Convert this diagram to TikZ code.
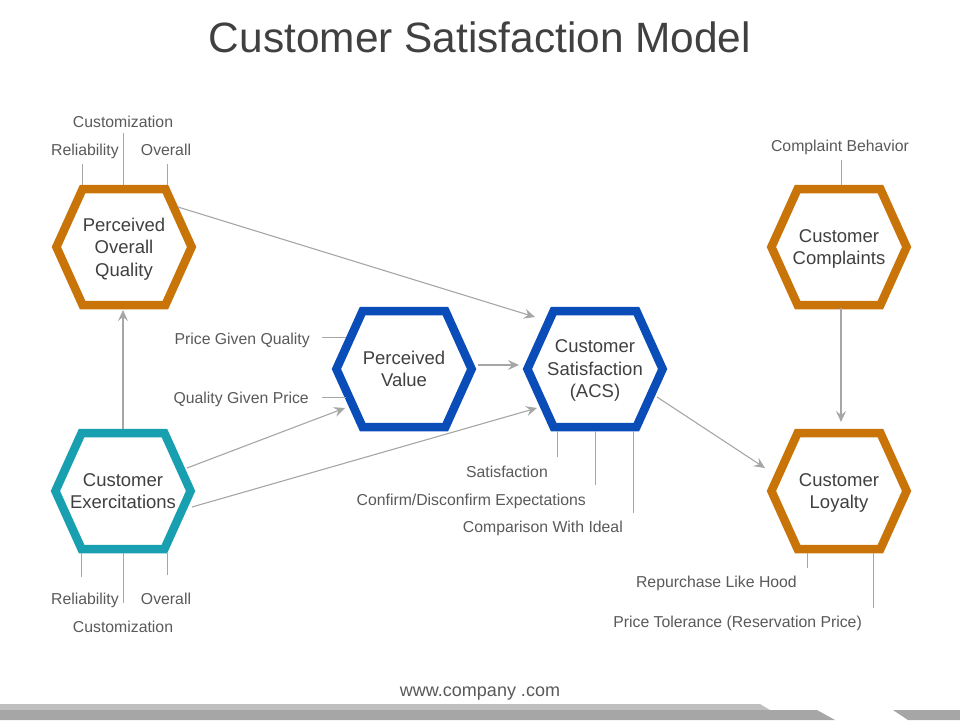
\documentclass[tikz,border=0pt]{standalone}
\usepackage{fontspec}
\setmainfont{Liberation Sans}
\usetikzlibrary{arrows.meta,calc}
\definecolor{hexorange}{RGB}{200,116,9}
\definecolor{hexteal}{RGB}{24,160,176}
\definecolor{hexblue}{RGB}{10,76,184}
\definecolor{linegray}{RGB}{166,166,166}
\definecolor{labelgray}{RGB}{89,89,89}
\definecolor{darktext}{RGB}{64,64,64}
\definecolor{bandlight}{RGB}{191,191,191}
\definecolor{banddark}{RGB}{166,166,166}
\newcommand\myhex[4]{%
  \node[hexlabel] (#1) at (#2) {#4};
  \draw[hexborder, draw=#3] ($(#1)+(-67.6,0)$) -- ($(#1)+(-41.4,-58)$) -- ($(#1)+(41.4,-58)$) -- ($(#1)+(67.6,0)$) -- ($(#1)+(41.4,58)$) -- ($(#1)+(-41.4,58)$) -- cycle;
}
\tikzset{
  hexborder/.style={line width=8.5pt, line join=miter},
  hexlabel/.style={align=center, text=darktext, font=\fontsize{18.5}{22.5}\selectfont, inner sep=0pt, text depth=0pt},
  smalllabel/.style={text=labelgray, font=\fontsize{15.8}{18}\selectfont, inner sep=0pt, text height=11.3pt, text depth=0pt},
  tickline/.style={draw=linegray, line width=1pt},
  arrowline/.style={draw=linegray, line width=1.1pt, -{Stealth[length=11pt,width=10pt,inset=4pt]}},
}
\begin{document}
\begin{tikzpicture}[x=1pt,y=-1pt]
\useasboundingbox (0,0) rectangle (960,720);
% title
\node[text=darktext, font=\fontsize{42.4}{48}\selectfont, inner sep=0pt, text height=30pt, text depth=0pt] (title) at (480,37) {Customer Satisfaction Model};
% hexagons
\myhex{poq}{124,247}{hexorange}{Perceived\\Overall\\Quality}
\myhex{ce}{123,491}{hexteal}{Customer\\Exercitations}
\myhex{pv}{404,369}{hexblue}{Perceived\\Value}
\myhex{cs}{595,369}{hexblue}{Customer\\Satisfaction\\(ACS)}
\myhex{cc}{839,247}{hexorange}{Customer\\Complaints}
\myhex{cl}{839,491}{hexorange}{Customer\\Loyalty}
% labels
\node[smalllabel] (poqcust) at (123,122) {Customization};
\node[smalllabel] (poqrel) at (85,150) {Reliability};
\node[smalllabel] (poqover) at (166,150) {Overall};
\node[smalllabel] (cerel) at (85,599) {Reliability};
\node[smalllabel] (ceover) at (166,599) {Overall};
\node[smalllabel] (cecust) at (123,627) {Customization};
\node[smalllabel] (ccbeh) at (840,146) {Complaint Behavior};
\node[smalllabel, anchor=east] (pvpgq) at (310,339) {Price Given Quality};
\node[smalllabel, anchor=east] (pvqgp) at (309,398) {Quality Given Price};
\node[smalllabel, anchor=east] (cssat) at (548,472) {Satisfaction};
\node[smalllabel, anchor=east] (cscon) at (586,500) {Confirm/Disconfirm Expectations};
\node[smalllabel, anchor=east] (cscomp) at (623,527) {Comparison With Ideal};
\node[smalllabel, anchor=east] (clrep) at (797,582) {Repurchase Like Hood};
\node[smalllabel, anchor=east] (clprice) at (862,622) {Price Tolerance (Reservation Price)};
% tick coordinates
\coordinate (t1a) at (82,164);  \coordinate (t1b) at (82,185);
\coordinate (t2a) at (123,133); \coordinate (t2b) at (123,185);
\coordinate (t3a) at (167,164); \coordinate (t3b) at (167,185);
\coordinate (b1a) at (81,553);  \coordinate (b1b) at (81,577);
\coordinate (b2a) at (123,553); \coordinate (b2b) at (123,603);
\coordinate (b3a) at (167,553); \coordinate (b3b) at (167,575);
\coordinate (c1a) at (841,160); \coordinate (c1b) at (841,185);
\coordinate (p1a) at (322,337); \coordinate (p1b) at (346,337);
\coordinate (p2a) at (322,397); \coordinate (p2b) at (346,397);
\coordinate (s1a) at (557,431); \coordinate (s1b) at (557,457);
\coordinate (s2a) at (595,431); \coordinate (s2b) at (595,485);
\coordinate (s3a) at (633,431); \coordinate (s3b) at (633,513);
\coordinate (l1a) at (807,553); \coordinate (l1b) at (807,568);
\coordinate (l2a) at (873,553); \coordinate (l2b) at (873,608);
\foreach \p in {t1,t2,t3,b1,b2,b3,c1,p1,p2,s1,s2,s3,l1,l2} {\draw[tickline] (\p a) -- (\p b);}
% arrow coordinates
\coordinate (ceT) at (123,429);  \coordinate (poqB) at (123,310);
\coordinate (poqR) at (178,207); \coordinate (csTL) at (535,317);
\coordinate (pvR) at (478,365);  \coordinate (csL) at (519,365);
\coordinate (ceR1) at (187,468); \coordinate (pvBL) at (345,408);
\coordinate (ceR2) at (192,507); \coordinate (csBL) at (537,408);
\coordinate (csBR) at (657,397); \coordinate (clL) at (765,468);
\coordinate (ccB) at (841,308);  \coordinate (clT) at (841,422);
\draw[arrowline] (ceT) -- (poqB);
\draw[arrowline] (poqR) -- (csTL);
\draw[arrowline] (pvR) -- (csL);
\draw[arrowline] (ceR1) -- (pvBL);
\draw[arrowline] (ceR2) -- (csBL);
\draw[arrowline] (csBR) -- (clL);
\draw[arrowline] (ccB) -- (clT);
% footer
\node[text=labelgray, font=\fontsize{18}{20}\selectfont, inner sep=0pt, text height=13pt, text depth=0pt] (footer) at (480,690) {www.company .com};
\fill[bandlight] (0,704) -- (760,704) -- (770,710) -- (0,710) -- cycle;
\fill[banddark] (0,710) -- (817,710) -- (835,720) -- (0,720) -- cycle;
\fill[banddark] (893,710) -- (960,710) -- (960,720) -- (908,720) -- cycle;
\end{tikzpicture}
\end{document}
